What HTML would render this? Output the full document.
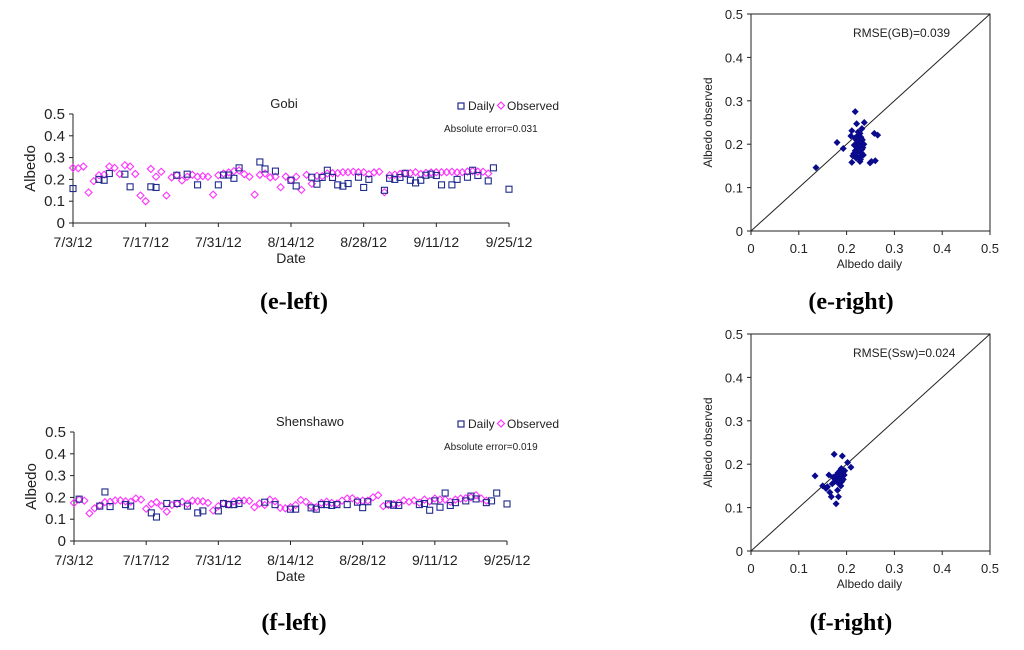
<!DOCTYPE html>
<html><head><meta charset="utf-8">
<style>
html,body{margin:0;padding:0;background:#fff;}
svg{display:block;font-family:"Liberation Sans",Arial,sans-serif;}
.cap{font-family:"Liberation Serif","Times New Roman",serif;font-weight:bold;font-size:24px;}
</style></head>
<body>
<svg id="fig" width="1024" height="650" viewBox="0 0 1024 650" xmlns="http://www.w3.org/2000/svg"></svg>
<script>
// ---- data ----
const tickLabels = ["7/3/12","7/17/12","7/31/12","8/14/12","8/28/12","9/11/12","9/25/12"];
const yTicks = [0,0.1,0.2,0.3,0.4,0.5];

const gobiDailyDays = [0,5,6,7,10,11,15,16,20,22,24,28,29,30,31,32,36,37,39,42,43,46,47,48,49,50,51,52,53,55,56,57,60,61,62,63,64,65,66,67,68,69,70,71,73,74,76,77,78,80,81,84];
const gobiDaily = [.158,.20,.196,.227,.224,.166,.166,.163,.219,.224,.175,.175,.22,.22,.205,.253,.28,.248,.238,.196,.17,.21,.178,.209,.242,.209,.175,.169,.181,.21,.163,.20,.15,.205,.20,.209,.228,.196,.184,.196,.219,.224,.218,.175,.175,.20,.21,.242,.218,.193,.253,.155];
const gobiObserved = [.253,.251,.259,.14,.192,.219,.222,.259,.253,.225,.265,.259,.225,.126,.10,.248,.212,.235,.126,.209,.219,.195,.212,.221,.212,.215,.212,.13,.219,.227,.232,.238,.241,.224,.212,.13,.221,.227,.209,.212,.164,.213,.196,.212,.152,.221,.18,.216,.215,.227,.229,.229,.233,.233,.235,.233,.233,.224,.232,.235,.141,.219,.222,.225,.227,.229,.233,.225,.23,.232,.233,.233,.233,.235,.232,.233,.236,.238,.236,.235,.227];

const sswDailyDays = [1,5,6,7,10,11,15,16,18,20,22,24,25,28,29,30,31,32,37,39,42,43,46,47,48,49,50,51,53,55,56,57,61,62,63,67,68,69,70,71,72,73,74,76,77,78,80,81,82,84];
const sswDaily = [.192,.16,.225,.158,.167,.16,.129,.11,.172,.172,.16,.129,.138,.138,.172,.167,.167,.172,.178,.167,.146,.146,.152,.146,.167,.167,.163,.167,.167,.178,.153,.18,.17,.164,.163,.167,.172,.141,.184,.155,.22,.163,.176,.184,.206,.193,.176,.184,.22,.17];
const sswObserved = [.175,.19,.185,.127,.15,.162,.178,.18,.186,.186,.182,.18,.195,.19,.148,.17,.178,.16,.135,.165,.17,.18,.17,.185,.183,.182,.175,.14,.16,.172,.168,.182,.186,.186,.184,.155,.172,.165,.19,.182,.152,.15,.155,.165,.188,.18,.16,.155,.175,.18,.175,.172,.185,.195,.196,.185,.185,.185,.2,.21,.16,.165,.17,.175,.186,.18,.186,.176,.19,.182,.195,.19,.19,.18,.19,.195,.196,.2,.21,.195,.185];

const gobiScatX = [.136,.18,.193,.218,.221,.237,.232,.211,.209,.258,.265,.211,.249,.26,.228,.213,.235,.22,.225,.23,.222,.228,.218,.233,.226,.224,.231,.219,.227,.229,.236,.221,.225,.232,.216,.223,.226,.23,.22,.234,.215,.228,.224,.252,.218];
const gobiScatY = [.146,.204,.19,.275,.247,.25,.236,.231,.219,.225,.221,.158,.157,.162,.16,.173,.175,.21,.205,.2,.195,.19,.215,.21,.185,.22,.18,.175,.17,.165,.2,.2,.212,.188,.198,.183,.208,.216,.168,.192,.178,.225,.228,.16,.185];
const sswScatX = [.134,.15,.157,.174,.191,.202,.209,.178,.168,.183,.163,.18,.185,.19,.195,.175,.188,.182,.17,.192,.186,.178,.165,.193,.184,.176,.189,.181,.172,.187,.16,.196,.183,.179];
const sswScatY = [.173,.15,.144,.223,.219,.204,.193,.109,.125,.125,.175,.165,.17,.16,.175,.16,.15,.18,.155,.18,.185,.17,.135,.165,.155,.165,.19,.14,.17,.172,.148,.185,.16,.175];

const NS = "http://www.w3.org/2000/svg";
const svg = document.getElementById('fig');
function el(tag, attrs, parent, text){
  const e = document.createElementNS(NS, tag);
  for (const k in attrs) e.setAttribute(k, attrs[k]);
  if (text !== undefined) e.textContent = text;
  (parent||svg).appendChild(e);
  return e;
}

function timeChart(cfg){
  const g = el('g', {});
  
  
  const x0=cfg.x0, x1=cfg.x1, yb=cfg.yb, yt=cfg.yt;
  const X = d => x0 + d*(x1-x0)/84;
  const Y = v => yb - v*(yb-yt)/0.5;
  // axes
  const ya = el('line',{x1:x0,y1:yt,x2:x0,y2:yb,stroke:'#222','stroke-width':1},g);
   
  const xa = el('line',{x1:x0,y1:yb,x2:x1,y2:yb,stroke:'#222','stroke-width':1},g);
   
  yTicks.forEach(v=>{
    el('line',{x1:x0-4,y1:Y(v),x2:x0,y2:Y(v),stroke:'#222'},g);
    const t = el('text',{x:x0-8,y:Y(v)+5,'text-anchor':'end','font-size':15,fill:'#222'},g,String(v));
     
  });
  tickLabels.forEach((lab,i)=>{
    const d=i*14;
    el('line',{x1:X(d),y1:yb,x2:X(d),y2:yb+4,stroke:'#222'},g);
    const t = el('text',{x:X(d),y:yb+24,'text-anchor':'middle','font-size':14,fill:'#222'},g,lab);
     
  });
  const yl = el('text',{x:0,y:0,transform:`translate(${x0-38},${(yt+yb)/2}) rotate(-90)`,'text-anchor':'middle','font-size':15,fill:'#222'},g,'Albedo');
   
  const xl = el('text',{x:(x0+x1)/2,y:yb+40,'text-anchor':'middle','font-size':14,fill:'#222'},g,'Date');
   
  const tt = el('text',{x:cfg.titleX,y:yt-6,'text-anchor':'middle','font-size':13,fill:'#222'},g,cfg.title);
   
  // legend
  const lg = el('g',{},g);
   
  el('rect',{x:458,y:yt-11,width:6,height:6,fill:'none',stroke:'#1f2a8c','stroke-width':1.2},lg);
  el('text',{x:468,y:yt-4,'font-size':12,fill:'#222'},lg,'Daily');
  el('path',{d:`M${501},${yt-12} l3.5,3.5 l-3.5,3.5 l-3.5,-3.5 z`,fill:'none',stroke:'#ff33ff','stroke-width':1.2},lg);
  el('text',{x:507,y:yt-4,'font-size':12,fill:'#222'},lg,'Observed');
  const ae = el('text',{x:444,y:yt+18,'font-size':10,fill:'#222'},g,cfg.err);
   
  // observed diamonds
  cfg.obs.forEach((v,d)=>{
    const p = el('path',{d:`M${X(d)},${Y(v)-3.5} l3.5,3.5 l-3.5,3.5 l-3.5,-3.5 z`,fill:'none',stroke:'#ff33ff','stroke-width':1.1},g);
     
  });
  cfg.daily.forEach((v,i)=>{
    const d = cfg.days[i];
    const r = el('rect',{x:X(d)-3,y:Y(v)-3,width:6,height:6,fill:'none',stroke:'#1f2a8c','stroke-width':1.1},g);
     
  });
}

function scatter(cfg){
  const g = el('g', {});
  
  
  const x0=751,x1=990,yb=cfg.yb,yt=cfg.yt;
  const X = v => x0 + v*(x1-x0)/0.5;
  const Y = v => yb - v*(yb-yt)/0.5;
  const box = el('rect',{x:x0,y:yt,width:x1-x0,height:yb-yt,fill:'none',stroke:'#222','stroke-width':1},g);
   
  const dl = el('line',{x1:X(0),y1:Y(0),x2:X(0.5),y2:Y(0.5),stroke:'#222','stroke-width':1},g);
   
  yTicks.forEach(v=>{
    el('line',{x1:x0-4,y1:Y(v),x2:x0,y2:Y(v),stroke:'#222'},g);
    el('line',{x1:X(v),y1:yb,x2:X(v),y2:yb+4,stroke:'#222'},g);
    const t=el('text',{x:x0-8,y:Y(v)+5,'text-anchor':'end','font-size':13,fill:'#222'},g,String(v));
     
    const u=el('text',{x:X(v),y:yb+22,'text-anchor':'middle','font-size':13,fill:'#222'},g,String(v));
     
  });
  const xl = el('text',{x:(x0+x1)/2-1,y:yb+37,'text-anchor':'middle','font-size':12,fill:'#222'},g,'Albedo daily');
   
  const yl = el('text',{x:0,y:0,transform:`translate(${712},${(yt+yb)/2}) rotate(-90)`,'text-anchor':'middle','font-size':12,fill:'#222'},g,'Albedo observed');
   
  const rm = el('text',{x:853,y:yt+23,'font-size':12,fill:'#222'},g,cfg.rmse);
   
  cfg.xs.forEach((xv,i)=>{
    const yv=cfg.ys[i];
    const p=el('path',{d:`M${X(xv)},${Y(yv)-3.5} l3.5,3.5 l-3.5,3.5 l-3.5,-3.5 z`,fill:'#0a0a8c'},g);
     
  });
}

timeChart({name:'gobi-time-series',x0:73,x1:509,yb:223,yt:114,title:'Gobi',titleX:284,err:'Absolute error=0.031',days:gobiDailyDays,daily:gobiDaily,obs:gobiObserved});
timeChart({name:'shenshawo-time-series',x0:74,x1:507,yb:541,yt:432,title:'Shenshawo',titleX:310,err:'Absolute error=0.019',days:sswDailyDays,daily:sswDaily,obs:sswObserved});
scatter({name:'gobi-scatter',yb:231,yt:14,rmse:'RMSE(GB)=0.039',xs:gobiScatX,ys:gobiScatY});
scatter({name:'shenshawo-scatter',yb:551,yt:334,rmse:'RMSE(Ssw)=0.024',xs:sswScatX,ys:sswScatY});

[['(e-left)',294,309,'caption-e-left'],['(e-right)',851,309,'caption-e-right'],['(f-left)',294,630,'caption-f-left'],['(f-right)',851,630,'caption-f-right']].forEach(c=>{
  const t = el('text',{x:c[1],y:c[2],'text-anchor':'middle',class:'cap',fill:'#000'},svg,c[0]);
  
  
});
</script>
</body></html>
